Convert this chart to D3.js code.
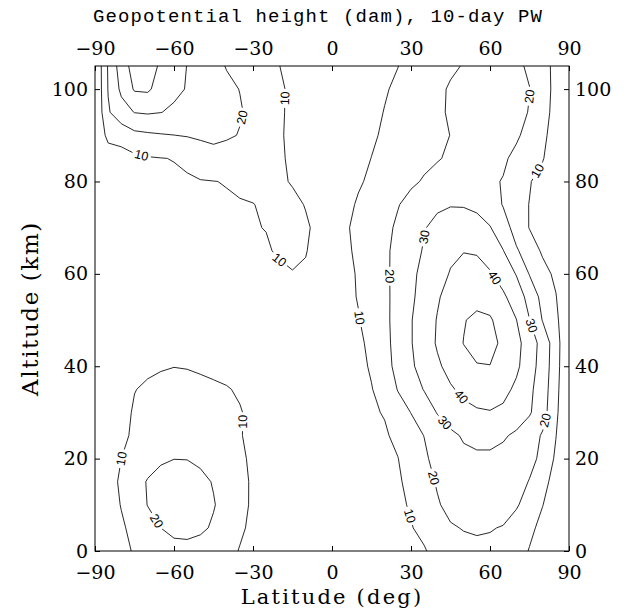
<!DOCTYPE html>
<html>
<head>
<meta charset="utf-8">
<script src="https://cdn.jsdelivr.net/npm/d3@7"></script>
<style>
  body { margin: 0; background: #fff; }
</style>
</head>
<body>
<div id="chart"></div>
<script>
// grid of the field: latitude columns (deg) and altitude rows (km)
const lats = [-90, -85, -80, -75, -70, -65, -60, -55, -50, -45, -40, -35, -30, -25, -20, -15, -10, -5,
              0, 5, 10, 15, 20, 25, 30, 35, 40, 45, 50, 55, 60, 65, 70, 75, 80, 85, 90];
const alts = [0, 5, 10, 15, 20, 25, 30, 35, 40, 45, 50, 55, 60, 65, 70, 75, 80, 85, 90, 95, 100, 105];

// geopotential height amplitude (dam), one row per altitude
const amp = [
  /*   0 */ [0,3,7,11,14,16.5,17.5,17.5,16.5,15,13,9.5,7,5,4,3,3,3,3,3.5,4,5,6,7,8.5,9.5,12,15,17,18,18,17,14,9.5,6,3,0],
  /*   5 */ [0,4,8.5,13,17,20,22,22.5,21.5,19,15.5,11.5,8,5.5,4,3.5,3.5,3.5,3.5,4,5,6.5,7.5,8.5,9.7,11.5,15,19,20.5,21,20.5,19.5,16,12,7.5,4,0],
  /*  10 */ [0,5,10.5,16,20.2,22.5,24,24,23,20.5,17,13,8.5,6,4.5,4,4,4,4,4.5,5.5,7,8,9,10.5,13,19,23,25,25.5,25,24,21,16,10.2,5,0],
  /*  15 */ [0,5,12,17,20.5,22.5,23.5,23.5,22,19.5,16,12.5,8.8,6,4.5,4,4,4,4.2,5,6,7,8,9.3,11.5,16,21,26,28,29,28.5,27,24,19.5,13,6.5,0],
  /*  20 */ [0,5.5,10,14,17,19,19.9,19.8,18.5,16.5,14,11.5,8.5,6,4.5,4,4,4,4.5,5.5,6.5,7.5,9,9.8,14.5,18,24,27,28,28.5,28.5,27.5,25.5,23,17.5,8.5,0],
  /*  25 */ [0,4,8,11.5,14,15.5,16,16,15,14,12.5,10.5,8,6,4.5,4,4,4.5,5,6,7,8.5,9,12,16,20.2,24.5,28,31,32.5,32.5,31,28.5,24.5,19,10.3,0],
  /*  30 */ [0,4,7.5,10.8,12.5,13.5,14,14,13.5,12.5,11.5,10.4,8.5,6.5,5,4.5,4.5,5,5.5,6.5,7.5,9,10.5,15,20.2,24.5,30.5,35,37.5,39,39.5,38,35,31,24,12,0],
  /*  35 */ [0,3.5,6.5,9.8,11,11.7,12,12,11.5,11,10.4,9.3,8,6.5,5,4.8,4.8,5,6,7,8.5,9.8,12,20.5,25,30.5,35,39,42,44,45,43,38,32,25,13,0],
  /*  40 */ [0,3,5.5,7.5,8.8,9.5,9.9,9.7,9.2,8.6,8,7.5,7,6,5,5,5,5.5,6.5,7.5,8.8,10.5,15,24,28.5,34,38.5,43,47,49.5,49.8,48,42,34,26,14,0],
  /*  45 */ [0,2.5,4.5,6,7,7.5,7.8,7.7,7.3,7,6.7,6.4,6,5.5,5,5,5,6,7,8,9.5,10.6,16,25,29.5,35,41,46,50.2,53,53,48,43,35,26.5,14.5,0],
  /*  50 */ [0,2,3.5,4.5,5.5,6,6.2,6.2,6,5.8,5.6,5.4,5.2,5,5,5,5.2,6,7,8.5,9.8,11.5,16.5,25.5,29.5,35,40.5,45.5,49.5,52,51,46,40.2,30.2,19.5,12.5,0],
  /*  55 */ [0,1.5,2.5,3.5,4.5,5,5.2,5.2,5.2,5.1,5,5,5,5,5.2,5.5,5.8,6.5,7.5,9,10.2,12.5,17,24.5,28.5,33.5,39,43.5,46,47,46,41.5,35.5,26.5,17,10.5,0],
  /*  60 */ [0,1.5,2.5,3.5,4,4.5,5,5.2,5.5,5.8,6.2,6.8,7.5,8.3,9.2,9.8,9.5,8.5,8,8.5,10.5,13,17.5,24,28,32.5,37,40.5,42,42,40.8,36,29.5,19.5,13.5,8,0],
  /*  65 */ [0,1.5,2.5,3.5,4,4.8,5.3,5.8,6.3,7,7.8,8.6,9.3,9.6,10.5,11,10.2,8.5,7.5,8.5,11.5,14,18,23,26.5,30.8,35,38.5,39.8,39.5,36,30.3,21,15.5,8.5,5,0],
  /*  70 */ [0,1.5,2.8,4,4.8,5.6,6.5,7.3,8,8.6,9.1,9.5,9.8,10.1,11,11.8,10.8,8.5,7,9,12,14.5,17.5,21.5,25,29.5,32.5,34.5,35,33.5,30.5,24,16.5,9.6,7,4.5,0],
  /*  75 */ [0,2,3.5,5,6,7,7.8,8.4,9,9.2,9.5,9.7,9.9,10.6,11.5,11.5,9.7,7.5,6,7.5,11,13.5,16,19.5,23,26.5,28.5,29.5,29.3,28,24.5,19.5,13,9.8,6.5,4,0],
  /*  80 */ [0,2.5,4.5,6,7.3,8.3,9,9.4,9.7,9.9,10.2,10.8,11.3,11.5,11,9.5,7,5.5,5,6.5,9,11.5,13.5,16,18.5,20.8,22.5,23.5,23.5,22.5,21.5,19.5,14,10.5,7,3.5,0],
  /*  85 */ [0,4,6,8,9.3,9.8,10.2,11,13.5,15,14.5,14,13,12,10.8,9,6.5,5,5,6,8,10.1,12.5,14.5,16.5,18,19.5,21,22.5,23.5,23,21.5,17.5,14,10.5,5,0],
  /*  90 */ [0,13,14,17.5,18.5,19.3,19.9,20.6,21.8,23.2,21.5,19.5,16.5,13.5,11,8,5.5,4.5,4.5,5.5,7,9,11,13,15,17,18.5,20.1,22,23.5,24,23.5,21.5,16.5,12,6,0],
  /*  95 */ [0,19,26,30.3,31,30.2,28.5,27,25.5,24,22.5,20.8,17.5,14,11.2,8.2,5.5,4.3,4.5,5.5,7,8.5,10.2,12,14,16.3,18.5,21,23,24.5,25,24.5,23,19.5,13.5,7,0],
  /* 100 */ [0,20.5,32,41,41.5,36,32,29.5,27,24.5,22,19.8,17,14,11.3,8.3,5.5,4.3,4.5,5.5,7,8.5,9.5,11,13,15.5,18,21,23.5,25,25.5,25,23.5,20.2,14,7.5,0],
  /* 105 */ [0,21,35,44,44.5,38.5,34,29.8,26,23,19.5,17,14.5,12.3,10.1,7.5,5.5,4.5,4.5,5.5,6.5,7.8,9,9.9,12,14.5,16.5,18.5,20.5,22.5,23.5,23.5,22,18.5,13.5,7.5,0]
];

const levels = [10, 20, 30, 40, 50];
const xTicks = [-90, -60, -30, 0, 30, 60, 90];
const yTicks = [0, 20, 40, 60, 80, 100];

// where the contour labels sit (level, lat, alt)
const labelSpots = [
  [10, -72, 86.5], [20, -35, 94], [10, -18, 98], [10, -20, 63],
  [10, 10.5, 50.5], [20, 22, 59.5], [30, 34.7, 68], [40, 61.3, 59],
  [30, 75.2, 48.7], [40, 49.3, 33.5], [30, 44.2, 28.5], [20, 38.5, 15.8],
  [10, 29, 7.5], [20, 79.6, 28.5], [20, 75.2, 98.4], [10, 79, 82],
  [10, -80, 20], [10, -34, 28], [20, -66.6, 6.5]
];

var margin = {top: 66, right: 64, bottom: 57, left: 95},
    width = 633 - margin.left - margin.right,
    height = 608 - margin.top - margin.bottom;

const svg = d3.select('#chart')
  .append('svg')
  .attr('width', 633)
  .attr('height', 608);

const g = svg.append('g')
  .attr('transform', 'translate(' + margin.left + ',' + margin.top + ')');

const x = d3.scaleLinear().domain([-90, 90]).range([0, width]);
const y = d3.scaleLinear().domain([0, 105]).range([height, 0]);

// grid coordinates from d3.contours: value i sits at i + 0.5
const n = lats.length, m = alts.length;
const gx = d3.scaleLinear().domain([0.5, n - 0.5]).range([x(lats[0]), x(lats[n - 1])]);
const gy = d3.scaleLinear().domain([0.5, m - 0.5]).range([y(alts[0]), y(alts[m - 1])]);

const values = [].concat(...amp);
const contours = d3.contours().size([n, m]).thresholds(levels)(values);

const proj = d3.geoTransform({
  point: function(px, py) { this.stream.point(gx(px), gy(py)); }
});
const path = d3.geoPath(proj);

g.append('clipPath').attr('id', 'clip')
  .append('rect').attr('width', width).attr('height', height);

const lines = g.append('g').attr('clip-path', 'url(#clip)');
lines.selectAll('path')
  .data(contours)
  .enter()
  .append('path')
  .attr('d', path)
  .attr('fill', 'none')
  .attr('stroke', '#111')
  .attr('stroke-width', 0.9);

// contour labels, snapped onto the nearest line segment
function nearest(level, px, py) {
  const c = contours.find(d => d.value === level);
  let best = null;
  c.coordinates.forEach(poly => poly.forEach(ring => {
    for (let i = 0; i < ring.length - 1; i++) {
      const ax = gx(ring[i][0]), ay = gy(ring[i][1]);
      const bx = gx(ring[i + 1][0]), by = gy(ring[i + 1][1]);
      const dx = bx - ax, dy = by - ay;
      const len2 = dx * dx + dy * dy;
      if (len2 === 0) continue;
      let t = ((px - ax) * dx + (py - ay) * dy) / len2;
      t = Math.max(0, Math.min(1, t));
      const qx = ax + t * dx, qy = ay + t * dy;
      const dist = (qx - px) * (qx - px) + (qy - py) * (qy - py);
      if (!best || dist < best.dist) best = {x: qx, y: qy, dist: dist, ang: Math.atan2(dy, dx) * 180 / Math.PI};
    }
  }));
  return best;
}

const labs = g.append('g').attr('clip-path', 'url(#clip)');
labelSpots.forEach(function(s) {
  const p = nearest(s[0], x(s[1]), y(s[2]));
  if (!p) return;
  let a = p.ang;
  if (a > 90) a -= 180;
  if (a < -90) a += 180;
  const lg = labs.append('g')
    .attr('transform', 'translate(' + p.x + ',' + p.y + ') rotate(' + a + ')');
  const bg = lg.append('rect').attr('fill', '#fff');
  const t = lg.append('text')
    .attr('text-anchor', 'middle')
    .attr('dy', '0.35em')
    .attr('font-family', 'Liberation Sans, Arial, sans-serif')
    .attr('font-size', 12.5)
    .text(s[0]);
  const w = t.node().getComputedTextLength() + 5;
  bg.attr('x', -w / 2).attr('y', -5).attr('width', w).attr('height', 10);
});

// axes with inward ticks on all four sides
const fmt = d3.format('d');
function styleAxis(sel) {
  sel.attr('font-family', 'DejaVu Serif, serif').attr('font-size', 19);
  sel.select('.domain').remove();
  sel.selectAll('.tick line').attr('stroke', '#000');
  sel.selectAll('.tick text').attr('fill', '#000');
}
g.append('g').attr('transform', 'translate(0,' + height + ')')
  .call(d3.axisBottom(x).tickValues(xTicks).tickFormat(fmt).tickSize(-5).tickPadding(14.8))
  .call(styleAxis);
g.append('g')
  .call(d3.axisTop(x).tickValues(xTicks).tickFormat(fmt).tickSize(-5).tickPadding(11))
  .call(styleAxis);
g.append('g')
  .call(d3.axisLeft(y).tickValues(yTicks).tickFormat(fmt).tickSize(-5).tickPadding(7))
  .call(styleAxis);
g.append('g').attr('transform', 'translate(' + width + ',0)')
  .call(d3.axisRight(y).tickValues(yTicks).tickFormat(fmt).tickSize(-5).tickPadding(6))
  .call(styleAxis);

g.append('rect')
  .attr('width', width).attr('height', height)
  .attr('fill', 'none').attr('stroke', '#000').attr('stroke-width', 1);

// titles
svg.append('text')
  .attr('x', 318).attr('y', 22)
  .attr('text-anchor', 'middle')
  .attr('font-family', 'Liberation Mono, monospace')
  .attr('font-size', 19)
  .attr('letter-spacing', 1.1)
  .text('Geopotential height (dam), 10-day PW');

svg.append('text')
  .attr('x', margin.left + width / 2).attr('y', 603.5)
  .attr('text-anchor', 'middle')
  .attr('font-family', 'DejaVu Serif, serif')
  .attr('font-size', 21)
  .attr('letter-spacing', 2.2)
  .text('Latitude (deg)');

svg.append('text')
  .attr('transform', 'translate(38,' + (margin.top + height / 2) + ') rotate(-90)')
  .attr('text-anchor', 'middle')
  .attr('font-family', 'DejaVu Serif, serif')
  .attr('font-size', 23)
  .attr('letter-spacing', 1.6)
  .text('Altitude (km)');
</script>
</body>
</html>
